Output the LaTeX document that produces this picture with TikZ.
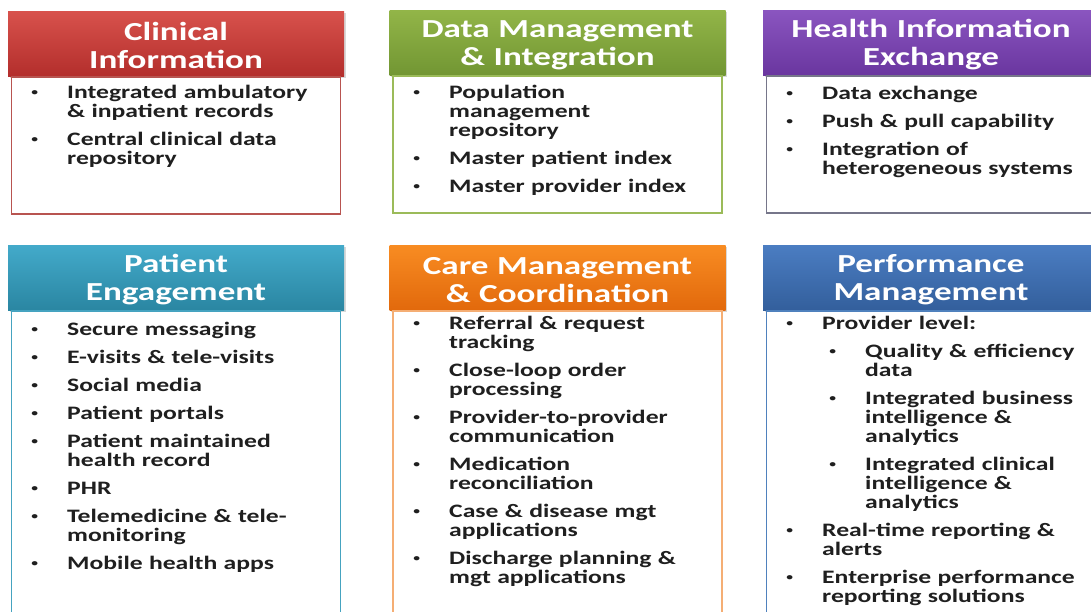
\documentclass[tikz,border=0pt]{standalone}
\usepackage{fontspec}
\setmainfont{Carlito}[FakeStretch=1.35]
\usetikzlibrary{positioning,shadows}

\definecolor{ciTop}{HTML}{D8524C}
\definecolor{ciBot}{HTML}{B32E2C}
\definecolor{ciLine}{HTML}{B85450}
\definecolor{dmTop}{HTML}{92B548}
\definecolor{dmBot}{HTML}{729633}
\definecolor{dmLine}{HTML}{9BBB59}
\definecolor{hxTop}{HTML}{8A55C0}
\definecolor{hxBot}{HTML}{6A369F}
\definecolor{hxLine}{HTML}{76768A}
\definecolor{peTop}{HTML}{43AACA}
\definecolor{peBot}{HTML}{2A86A2}
\definecolor{peLine}{HTML}{45A3C0}
\definecolor{cmTop}{HTML}{F88C22}
\definecolor{cmBot}{HTML}{E2690C}
\definecolor{cmLine}{HTML}{F5AE74}
\definecolor{pmTop}{HTML}{4B7DC2}
\definecolor{pmBot}{HTML}{335F9C}
\definecolor{pmLine}{HTML}{4F81BD}

\begin{document}
\begin{tikzpicture}[x=1pt,y=-1pt,
    hdr/.style={minimum width=336, minimum height=65, inner sep=0, text=white,
      align=center, text width=330, font=\fontsize{26}{27.5}\selectfont\bfseries,
      execute at begin node={\rule{0pt}{22pt}},
      drop shadow={shadow xshift=1.5pt,shadow yshift=-1.5pt,opacity=.3}},
    panel/.style={draw=#1, line width=1.3pt, minimum width=329, inner sep=0},
    itm/.style={anchor=base west, inner sep=0, align=left, text width=300,
      text=black!88, font=\fontsize{19}{19}\selectfont\bfseries,
      execute at begin node={\llap{\raisebox{2.5pt}{\fontsize{10}{10}\selectfont\textbullet}\hspace{29pt}}}}]
  \fill[white] (0,0) rectangle (1091,611);
  \useasboundingbox (0,0) rectangle (1091,611);
  \clip (0,0) rectangle (1091,611);
  % top row: headers and panels
  \node[hdr, top color=ciTop, bottom color=ciBot] (ci) at (176,43.5) {Clinical\\Information};
  \node[hdr, top color=dmTop, bottom color=dmBot] (dm) at (557.5,42.5) {Data Management\\\& Integration};
  \node[hdr, top color=hxTop, bottom color=hxBot] (hx) at (931,42.5) {Health Information\\Exchange};
  \node[panel=ciLine, minimum height=137, below=0pt of ci] (cip) {};
  \node[panel=dmLine, minimum height=137, below=0pt of dm] (dmp) {};
  \node[panel=hxLine, minimum height=137, below=0pt of hx] (hxp) {};
  % bottom row: headers and panels
  \node[hdr, top color=peTop, bottom color=peBot] (pe) at (176,277.5) {Patient\\Engagement};
  \node[hdr, top color=cmTop, bottom color=cmBot] (cm) at (557.5,277.5) {Care Management\\\& Coordination};
  \node[hdr, top color=pmTop, bottom color=pmBot] (pm) at (931,277.5) {Performance\\Management};
  \node[panel=peLine, minimum height=310, below=0pt of pe] (pep) {};
  \node[panel=cmLine, minimum height=310, below=0pt of cm] (cmp) {};
  \node[panel=pmLine, minimum height=310, below=0pt of pm] (pmp) {};
  % clinical information
  \node[itm] (ci1) at (67,98) {Integrated ambulatory\\\& inpatient records};
  \node[itm] (ci2) at (67,145) {Central clinical data\\repository};
  % data management & integration
  \node[itm] (dm1) at (449,98) {Population\\management\\repository};
  \node[itm] (dm2) at (449,164) {Master patient index};
  \node[itm] (dm3) at (449,192) {Master provider index};
  % health information exchange
  \node[itm] (hx1) at (822,99) {Data exchange};
  \node[itm] (hx2) at (822,127) {Push \& pull capability};
  \node[itm] (hx3) at (822,155) {Integration of\\heterogeneous systems};
  % patient engagement
  \node[itm] (pe1) at (67,335) {Secure messaging};
  \node[itm] (pe2) at (67,363) {E-visits \& tele-visits};
  \node[itm] (pe3) at (67,391) {Social media};
  \node[itm] (pe4) at (67,419) {Patient portals};
  \node[itm] (pe5) at (67,447) {Patient maintained\\health record};
  \node[itm] (pe6) at (67,494) {PHR};
  \node[itm] (pe7) at (67,522) {Telemedicine \& tele-\\monitoring};
  \node[itm] (pe8) at (67,569) {Mobile health apps};
  % care management & coordination
  \node[itm] (cm1) at (449,329) {Referral \& request\\tracking};
  \node[itm] (cm2) at (449,376) {Close-loop order\\processing};
  \node[itm] (cm3) at (449,423) {Provider-to-provider\\communication};
  \node[itm] (cm4) at (449,470) {Medication\\reconciliation};
  \node[itm] (cm5) at (449,517) {Case \& disease mgt\\applications};
  \node[itm] (cm6) at (449,564) {Discharge planning \&\\mgt applications};
  % performance management (with sub-items)
  \node[itm] (pm1) at (822,329) {Provider level:};
  \node[itm] (pm2) at (865,357) {Quality \& efficiency\\data};
  \node[itm] (pm3) at (865,404) {Integrated business\\intelligence \&\\analytics};
  \node[itm] (pm4) at (865,470) {Integrated clinical\\intelligence \&\\analytics};
  \node[itm] (pm5) at (822,536) {Real-time reporting \&\\alerts};
  \node[itm] (pm6) at (822,583) {Enterprise performance\\reporting solutions};
\end{tikzpicture}
\end{document}
